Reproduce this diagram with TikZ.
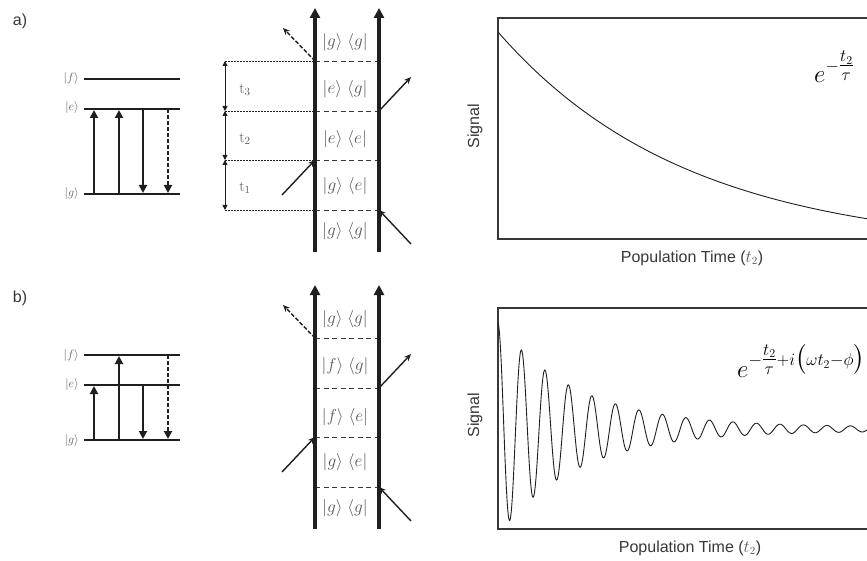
\documentclass[tikz,border=0pt]{standalone}
\usepackage{amsmath}
\usepackage{fontspec}
\setsansfont{Liberation Sans}
\usetikzlibrary{arrows.meta}
\DeclareMathSizes{30}{30}{17}{13}

\definecolor{ink}{gray}{0.12}
\definecolor{frameink}{gray}{0.22}
\definecolor{labelgray}{gray}{0.35}

\tikzset{
  level/.style={ink, line width=1.8pt},
  transition/.style={ink, line width=1.8pt, -{Triangle[length=8pt,width=8pt]}},
  side/.style={ink, line width=3.8pt, -{Triangle[length=10pt,width=10pt]}},
  pulse/.style={ink, line width=1.4pt, -{Stealth[length=7pt,width=6pt]}},
  slice/.style={frameink, line width=0.9pt, dash pattern=on 5pt off 3.5pt},
  guide/.style={ink, line width=0.8pt, dash pattern=on 1.6pt off 1.4pt},
  tspan/.style={ink, line width=0.9pt, {Triangle[length=5pt,width=5pt]}-{Triangle[length=5pt,width=5pt]}},
  ket/.style={text=labelgray, font=\fontsize{12}{13}\selectfont, anchor=east, inner sep=0pt},
  dens/.style={text=labelgray, font=\fontsize{18}{19}\selectfont, inner sep=0pt},
  tlabel/.style={text=labelgray, font=\fontsize{15}{16}\selectfont, inner sep=0pt},
  sans/.style={font=\sffamily\fontsize{16}{18}\selectfont, text=frameink, inner sep=0pt},
  frame/.style={frameink, line width=2.4pt},
  trace/.style={ink, line width=0.9pt},
  fit/.style={anchor=base west, inner sep=0pt, font=\fontsize{30}{32}\selectfont},
}

\begin{document}
\begin{tikzpicture}[x=1pt, y=-1pt]
  \clip (0,0) rectangle (867,561);
  \fill[white] (0,0) rectangle (867,561);

  \node[sans] (lblA) at (20,21) {a)};
  \node[sans] (lblB) at (20,298) {b)};

  % Energy levels, a)
  \node[ket] (fA) at (79,79) {$|f\rangle$};
  \node[ket] (eA) at (79,108) {$|e\rangle$};
  \node[ket] (gA) at (79,194) {$|g\rangle$};
  \draw[level] ([xshift=5pt]fA.east) -- ++(96,0);
  \draw[level] (84,109) -- (180,109);
  \draw[level] ([xshift=5pt]gA.east) -- ++(96,0);
  \draw[transition] (94,194) -- (94,110);
  \draw[transition] (119,194) -- (119,110);
  \draw[transition] (143,109) -- (143,193);
  \draw[transition, dash pattern=on 4pt off 2pt] (168,109) -- (168,193);

  % Energy levels, b)
  \node[ket] (fB) at (79,355) {$|f\rangle$};
  \node[ket] (eB) at (79,384) {$|e\rangle$};
  \node[ket] (gB) at (79,440) {$|g\rangle$};
  \draw[level] ([xshift=5pt]fB.east) -- ++(96,0);
  \draw[level] (84,385) -- (180,385);
  \draw[level] ([xshift=5pt]gB.east) -- ++(96,0);
  \draw[transition] (94,440) -- (94,386);
  \draw[transition] (119,440) -- (119,356);
  \draw[transition] (143,385) -- (143,439);
  \draw[transition, dash pattern=on 4pt off 2pt] (168,355) -- (168,439);

  % Double-sided diagrams
  \foreach \dy in {0,277} {
    \begin{scope}[shift={(0,\dy)}]
      \foreach \y [count=\k] in {61,111,160,210}
        \draw[slice] (315,\y) coordinate (l\k) -- (379,\y) coordinate (r\k);
      \draw[side] (315,252) -- (315,8);
      \draw[side] (379,252) -- (379,8);
      \draw[pulse, dash pattern=on 4pt off 2pt] (l1) -- (283,28);
      \draw[pulse] (r2) -- (411,77);
      \draw[pulse] (282,195) -- (l3);
      \draw[pulse] (411,244) -- (r4);
    \end{scope}
  }

  \foreach \y/\k/\b [count=\i] in {42/g/g, 89/e/g, 139/e/e, 186/g/e, 231/g/g}
    \node[dens] (rhoA\i) at (345,\y) {$|\k\rangle$\hspace{5pt}$\langle \b|$};
  \foreach \y/\k/\b [count=\i] in {319/g/g, 366/f/g, 417/f/e, 462/g/e, 508/g/g}
    \node[dens] (rhoB\i) at (345,\y) {$|\k\rangle$\hspace{5pt}$\langle \b|$};

  % Time intervals
  \foreach \y in {61,111,160,210}
    \draw[guide] (225,\y) -- (315,\y);
  \draw[tspan] (225,61) -- (225,111);
  \draw[tspan] (225,111) -- (225,160);
  \draw[tspan] (225,160) -- (225,210);
  \node[tlabel] (t3) at (245,90) {$\mathrm{t}_3$};
  \node[tlabel] (t2) at (245,139) {$\mathrm{t}_2$};
  \node[tlabel] (t1) at (245,188) {$\mathrm{t}_1$};

  % Population decay
  \draw[frame] (880,18) -- (498,18) -- (498,239) -- (880,239);
  \draw[trace] plot[domain=0:369, samples=120] ({498+\x}, {250-218*exp(-\x/190)});
  \node[sans, rotate=90] (sigA) at (475,126) {Signal};
  \node[sans] (timeA) at (692,258) {Population Time ({\color{labelgray}$t_2$})};
  \node[fit] (fitA) at (814,83) {$e^{-\tfrac{t_2}{\tau}}$};

  % Coherence beating
  \draw[frame] (880,308) -- (498,308) -- (498,529) -- (880,529);
  \draw[trace] plot[domain=0:369, samples=900] ({498+\x}, {429-(104*exp(-\x/78)+2)*cos(\x/23.5*360)});
  \node[sans, rotate=90] (sigB) at (475,415) {Signal};
  \node[sans] (timeB) at (690,548) {Population Time ({\color{labelgray}$t_2$})};
  \node[fit] (fitB) at (737,377) {$e^{-\tfrac{t_2}{\tau}+i\bigl(\omega t_2-\phi\bigr)}$};
\end{tikzpicture}
\end{document}
